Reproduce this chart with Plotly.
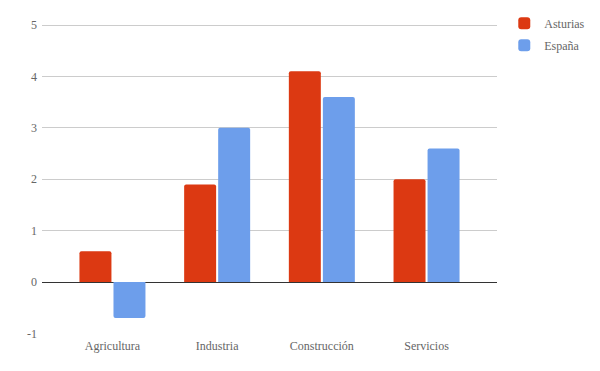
import plotly.graph_objects as go

categories = ["Agricultura", "Industria", "Construcción", "Servicios"]
asturias = [0.6, 1.9, 4.1, 2.0]
espana = [-0.7, 3.0, 3.6, 2.6]
y_ticks = [-1, 0, 1, 2, 3, 4, 5]
y_tick_labels = ["-1", "0", "1", "2", "3", "4", "5"]

font_family = "Liberation Serif"

fig = go.Figure()
fig.add_trace(go.Bar(x=categories, y=asturias, name="Asturias", legendgroup="a",
                     marker=dict(color="#DC3912", cornerradius=2, line=dict(width=0))))
fig.add_trace(go.Bar(x=categories, y=espana, name="España", legendgroup="b",
                     marker=dict(color="#6D9EEB", cornerradius=2, line=dict(width=0))))

fig.update_layout(
    width=600, height=371,
    margin=dict(l=42, r=103, t=24, b=37, autoexpand=False),
    plot_bgcolor="white", paper_bgcolor="white",
    barmode="group", bargap=0.35, bargroupgap=0.06,
    font=dict(family=font_family, size=12, color="#666666"),
    legend=dict(x=1.016, y=1.049, xanchor="left", yanchor="top",
                font=dict(family=font_family, size=12, color="#666666"),
                itemwidth=30, traceorder="grouped", tracegroupgap=3),
    xaxis=dict(range=[-0.673, 3.673], showgrid=False, showline=False,
               ticks="", ticklabelstandoff=3,
               tickfont=dict(family=font_family, size=12, color="#666666")),
    yaxis=dict(range=[-1.01, 5.02], tickvals=y_ticks, ticktext=y_tick_labels,
               showgrid=True, gridcolor="#cccccc", gridwidth=1, zeroline=True,
               zerolinecolor="#333333", zerolinewidth=1,
               ticks="", ticklabelstandoff=4,
               tickfont=dict(family=font_family, size=12, color="#666666")),
)

fig.write_html("out.html", config={"displayModeBar": False},
               post_script="document.body.style.margin='0';")
